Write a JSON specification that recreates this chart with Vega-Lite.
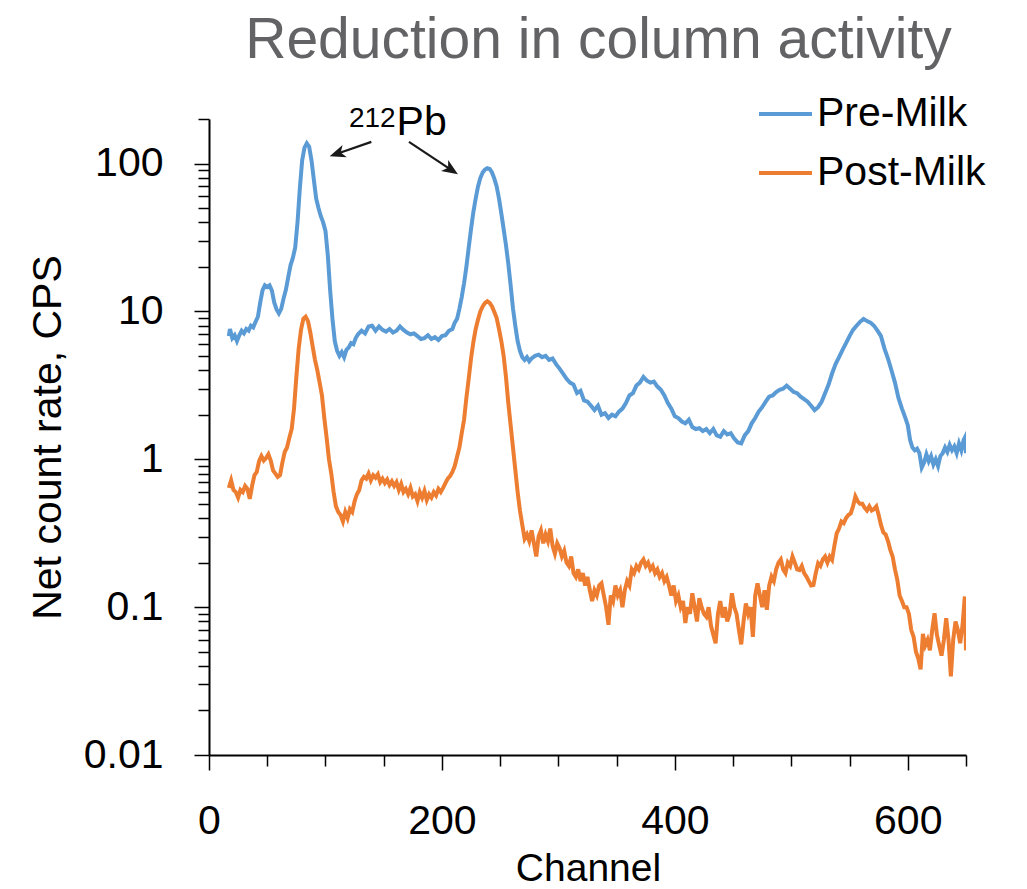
{
  "$schema": "https://vega.github.io/schema/vega-lite/v6.json",
  "autosize": {"type": "none"},
  "width": 757,
  "height": 636,
  "padding": {"left": 209, "top": 119, "right": 61, "bottom": 134},
  "background": "white",
  "config": {"view": {"stroke": null}, "font": "Liberation Sans"},
  "title": {"text": "Reduction in column activity", "font": "Liberation Sans", "fontSize": 57, "fontWeight": "normal", "color": "#636366", "anchor": "middle", "dx": 11, "offset": -29, "baseline": "alphabetic"},
  "datasets": {
    "spectra": [
      {"series":"Pre-Milk","channel":17,"cps":6.8},{"series":"Pre-Milk","channel":18,"cps":7.6},{"series":"Pre-Milk","channel":20,"cps":6.6},{"series":"Pre-Milk","channel":22,"cps":6.9},{"series":"Pre-Milk","channel":24,"cps":6.3},{"series":"Pre-Milk","channel":26,"cps":6.9},{"series":"Pre-Milk","channel":28,"cps":7.4},{"series":"Pre-Milk","channel":30,"cps":7.1},{"series":"Pre-Milk","channel":32,"cps":7.6},{"series":"Pre-Milk","channel":34,"cps":7.4},{"series":"Pre-Milk","channel":36,"cps":8.0},{"series":"Pre-Milk","channel":38,"cps":7.8},{"series":"Pre-Milk","channel":40,"cps":8.5},{"series":"Pre-Milk","channel":42,"cps":9.2},{"series":"Pre-Milk","channel":44,"cps":11.5},{"series":"Pre-Milk","channel":46,"cps":13.9},{"series":"Pre-Milk","channel":48,"cps":15.0},{"series":"Pre-Milk","channel":50,"cps":14.6},{"series":"Pre-Milk","channel":52,"cps":15.0},{"series":"Pre-Milk","channel":54,"cps":13.8},{"series":"Pre-Milk","channel":56,"cps":11.5},{"series":"Pre-Milk","channel":58,"cps":10.3},{"series":"Pre-Milk","channel":60,"cps":9.7},{"series":"Pre-Milk","channel":62,"cps":10.4},{"series":"Pre-Milk","channel":64,"cps":12.2},{"series":"Pre-Milk","channel":66,"cps":14.0},{"series":"Pre-Milk","channel":68,"cps":17.0},{"series":"Pre-Milk","channel":70,"cps":20.5},{"series":"Pre-Milk","channel":72,"cps":23},{"series":"Pre-Milk","channel":74,"cps":27},{"series":"Pre-Milk","channel":76,"cps":40},{"series":"Pre-Milk","channel":78,"cps":68},{"series":"Pre-Milk","channel":80,"cps":105},{"series":"Pre-Milk","channel":82,"cps":128},{"series":"Pre-Milk","channel":84,"cps":137},{"series":"Pre-Milk","channel":86,"cps":130},{"series":"Pre-Milk","channel":88,"cps":105},{"series":"Pre-Milk","channel":90,"cps":78},{"series":"Pre-Milk","channel":92,"cps":58},{"series":"Pre-Milk","channel":94,"cps":50},{"series":"Pre-Milk","channel":96,"cps":44},{"series":"Pre-Milk","channel":98,"cps":40},{"series":"Pre-Milk","channel":100,"cps":35},{"series":"Pre-Milk","channel":102,"cps":24},{"series":"Pre-Milk","channel":104,"cps":14},{"series":"Pre-Milk","channel":106,"cps":8.9},{"series":"Pre-Milk","channel":108,"cps":6.3},{"series":"Pre-Milk","channel":110,"cps":5.4},{"series":"Pre-Milk","channel":112,"cps":5.0},{"series":"Pre-Milk","channel":114,"cps":5.3},{"series":"Pre-Milk","channel":116,"cps":4.9},{"series":"Pre-Milk","channel":118,"cps":5.5},{"series":"Pre-Milk","channel":120,"cps":5.7},{"series":"Pre-Milk","channel":122,"cps":6.1},{"series":"Pre-Milk","channel":124,"cps":6.0},{"series":"Pre-Milk","channel":126,"cps":6.6},{"series":"Pre-Milk","channel":128,"cps":7.0},{"series":"Pre-Milk","channel":131,"cps":7.4},{"series":"Pre-Milk","channel":134,"cps":7.1},{"series":"Pre-Milk","channel":137,"cps":7.9},{"series":"Pre-Milk","channel":140,"cps":8.0},{"series":"Pre-Milk","channel":143,"cps":7.4},{"series":"Pre-Milk","channel":146,"cps":7.9},{"series":"Pre-Milk","channel":149,"cps":7.5},{"series":"Pre-Milk","channel":152,"cps":7.3},{"series":"Pre-Milk","channel":155,"cps":7.6},{"series":"Pre-Milk","channel":158,"cps":7.2},{"series":"Pre-Milk","channel":161,"cps":7.4},{"series":"Pre-Milk","channel":164,"cps":7.9},{"series":"Pre-Milk","channel":167,"cps":7.5},{"series":"Pre-Milk","channel":170,"cps":7.2},{"series":"Pre-Milk","channel":173,"cps":7.0},{"series":"Pre-Milk","channel":176,"cps":7.1},{"series":"Pre-Milk","channel":179,"cps":6.8},{"series":"Pre-Milk","channel":182,"cps":6.5},{"series":"Pre-Milk","channel":185,"cps":6.6},{"series":"Pre-Milk","channel":188,"cps":6.9},{"series":"Pre-Milk","channel":191,"cps":6.5},{"series":"Pre-Milk","channel":194,"cps":6.7},{"series":"Pre-Milk","channel":197,"cps":6.4},{"series":"Pre-Milk","channel":200,"cps":6.8},{"series":"Pre-Milk","channel":203,"cps":6.9},{"series":"Pre-Milk","channel":206,"cps":7.4},{"series":"Pre-Milk","channel":209,"cps":7.6},{"series":"Pre-Milk","channel":211,"cps":8.4},{"series":"Pre-Milk","channel":213,"cps":8.9},{"series":"Pre-Milk","channel":215,"cps":10.4},{"series":"Pre-Milk","channel":217,"cps":12.5},{"series":"Pre-Milk","channel":219,"cps":15.5},{"series":"Pre-Milk","channel":221,"cps":20},{"series":"Pre-Milk","channel":223,"cps":27},{"series":"Pre-Milk","channel":225,"cps":36},{"series":"Pre-Milk","channel":227,"cps":47},{"series":"Pre-Milk","channel":229,"cps":58},{"series":"Pre-Milk","channel":231,"cps":70},{"series":"Pre-Milk","channel":233,"cps":80},{"series":"Pre-Milk","channel":235,"cps":87},{"series":"Pre-Milk","channel":237,"cps":91},{"series":"Pre-Milk","channel":239,"cps":93},{"series":"Pre-Milk","channel":241,"cps":92},{"series":"Pre-Milk","channel":243,"cps":87},{"series":"Pre-Milk","channel":245,"cps":79},{"series":"Pre-Milk","channel":247,"cps":70},{"series":"Pre-Milk","channel":249,"cps":58},{"series":"Pre-Milk","channel":251,"cps":46},{"series":"Pre-Milk","channel":253,"cps":36},{"series":"Pre-Milk","channel":255,"cps":28},{"series":"Pre-Milk","channel":257,"cps":21},{"series":"Pre-Milk","channel":259,"cps":15},{"series":"Pre-Milk","channel":261,"cps":10.5},{"series":"Pre-Milk","channel":263,"cps":8},{"series":"Pre-Milk","channel":265,"cps":6.3},{"series":"Pre-Milk","channel":267,"cps":5.4},{"series":"Pre-Milk","channel":269,"cps":4.9},{"series":"Pre-Milk","channel":271,"cps":4.7},{"series":"Pre-Milk","channel":273,"cps":4.9},{"series":"Pre-Milk","channel":275,"cps":4.6},{"series":"Pre-Milk","channel":277,"cps":4.8},{"series":"Pre-Milk","channel":280,"cps":5.0},{"series":"Pre-Milk","channel":283,"cps":5.1},{"series":"Pre-Milk","channel":286,"cps":4.9},{"series":"Pre-Milk","channel":289,"cps":5.0},{"series":"Pre-Milk","channel":292,"cps":4.7},{"series":"Pre-Milk","channel":295,"cps":4.8},{"series":"Pre-Milk","channel":298,"cps":4.4},{"series":"Pre-Milk","channel":301,"cps":4.1},{"series":"Pre-Milk","channel":304,"cps":3.8},{"series":"Pre-Milk","channel":307,"cps":3.5},{"series":"Pre-Milk","channel":310,"cps":3.3},{"series":"Pre-Milk","channel":313,"cps":3.2},{"series":"Pre-Milk","channel":316,"cps":2.8},{"series":"Pre-Milk","channel":319,"cps":2.9},{"series":"Pre-Milk","channel":322,"cps":2.5},{"series":"Pre-Milk","channel":325,"cps":2.45},{"series":"Pre-Milk","channel":328,"cps":2.3},{"series":"Pre-Milk","channel":331,"cps":2.15},{"series":"Pre-Milk","channel":334,"cps":2.3},{"series":"Pre-Milk","channel":337,"cps":2.0},{"series":"Pre-Milk","channel":340,"cps":2.05},{"series":"Pre-Milk","channel":343,"cps":1.9},{"series":"Pre-Milk","channel":346,"cps":2.0},{"series":"Pre-Milk","channel":349,"cps":1.95},{"series":"Pre-Milk","channel":352,"cps":2.1},{"series":"Pre-Milk","channel":355,"cps":2.2},{"series":"Pre-Milk","channel":358,"cps":2.4},{"series":"Pre-Milk","channel":361,"cps":2.7},{"series":"Pre-Milk","channel":364,"cps":2.8},{"series":"Pre-Milk","channel":367,"cps":3.15},{"series":"Pre-Milk","channel":370,"cps":3.3},{"series":"Pre-Milk","channel":373,"cps":3.6},{"series":"Pre-Milk","channel":376,"cps":3.4},{"series":"Pre-Milk","channel":379,"cps":3.3},{"series":"Pre-Milk","channel":382,"cps":3.35},{"series":"Pre-Milk","channel":385,"cps":3.1},{"series":"Pre-Milk","channel":388,"cps":2.95},{"series":"Pre-Milk","channel":391,"cps":2.7},{"series":"Pre-Milk","channel":394,"cps":2.4},{"series":"Pre-Milk","channel":397,"cps":2.2},{"series":"Pre-Milk","channel":400,"cps":1.95},{"series":"Pre-Milk","channel":403,"cps":1.9},{"series":"Pre-Milk","channel":406,"cps":1.8},{"series":"Pre-Milk","channel":409,"cps":1.75},{"series":"Pre-Milk","channel":412,"cps":1.85},{"series":"Pre-Milk","channel":415,"cps":1.65},{"series":"Pre-Milk","channel":418,"cps":1.6},{"series":"Pre-Milk","channel":421,"cps":1.62},{"series":"Pre-Milk","channel":424,"cps":1.55},{"series":"Pre-Milk","channel":427,"cps":1.6},{"series":"Pre-Milk","channel":430,"cps":1.5},{"series":"Pre-Milk","channel":433,"cps":1.6},{"series":"Pre-Milk","channel":436,"cps":1.45},{"series":"Pre-Milk","channel":439,"cps":1.42},{"series":"Pre-Milk","channel":442,"cps":1.55},{"series":"Pre-Milk","channel":445,"cps":1.47},{"series":"Pre-Milk","channel":448,"cps":1.5},{"series":"Pre-Milk","channel":451,"cps":1.38},{"series":"Pre-Milk","channel":454,"cps":1.3},{"series":"Pre-Milk","channel":457,"cps":1.28},{"series":"Pre-Milk","channel":460,"cps":1.45},{"series":"Pre-Milk","channel":463,"cps":1.55},{"series":"Pre-Milk","channel":466,"cps":1.75},{"series":"Pre-Milk","channel":469,"cps":1.9},{"series":"Pre-Milk","channel":472,"cps":2.1},{"series":"Pre-Milk","channel":475,"cps":2.25},{"series":"Pre-Milk","channel":478,"cps":2.45},{"series":"Pre-Milk","channel":481,"cps":2.65},{"series":"Pre-Milk","channel":484,"cps":2.7},{"series":"Pre-Milk","channel":487,"cps":2.85},{"series":"Pre-Milk","channel":490,"cps":2.95},{"series":"Pre-Milk","channel":493,"cps":3.0},{"series":"Pre-Milk","channel":496,"cps":3.15},{"series":"Pre-Milk","channel":499,"cps":3.0},{"series":"Pre-Milk","channel":502,"cps":2.85},{"series":"Pre-Milk","channel":505,"cps":2.8},{"series":"Pre-Milk","channel":508,"cps":2.65},{"series":"Pre-Milk","channel":511,"cps":2.55},{"series":"Pre-Milk","channel":514,"cps":2.45},{"series":"Pre-Milk","channel":517,"cps":2.3},{"series":"Pre-Milk","channel":520,"cps":2.15},{"series":"Pre-Milk","channel":523,"cps":2.25},{"series":"Pre-Milk","channel":526,"cps":2.45},{"series":"Pre-Milk","channel":529,"cps":2.8},{"series":"Pre-Milk","channel":532,"cps":3.2},{"series":"Pre-Milk","channel":535,"cps":3.8},{"series":"Pre-Milk","channel":538,"cps":4.4},{"series":"Pre-Milk","channel":541,"cps":4.9},{"series":"Pre-Milk","channel":544,"cps":5.5},{"series":"Pre-Milk","channel":547,"cps":6.1},{"series":"Pre-Milk","channel":550,"cps":6.8},{"series":"Pre-Milk","channel":553,"cps":7.5},{"series":"Pre-Milk","channel":556,"cps":8.0},{"series":"Pre-Milk","channel":559,"cps":8.5},{"series":"Pre-Milk","channel":562,"cps":8.9},{"series":"Pre-Milk","channel":565,"cps":8.6},{"series":"Pre-Milk","channel":568,"cps":8.4},{"series":"Pre-Milk","channel":571,"cps":8.0},{"series":"Pre-Milk","channel":574,"cps":7.4},{"series":"Pre-Milk","channel":577,"cps":6.8},{"series":"Pre-Milk","channel":580,"cps":5.6},{"series":"Pre-Milk","channel":583,"cps":4.8},{"series":"Pre-Milk","channel":586,"cps":4.0},{"series":"Pre-Milk","channel":589,"cps":3.3},{"series":"Pre-Milk","channel":592,"cps":2.6},{"series":"Pre-Milk","channel":595,"cps":2.2},{"series":"Pre-Milk","channel":598,"cps":1.9},{"series":"Pre-Milk","channel":600,"cps":1.7},{"series":"Pre-Milk","channel":602,"cps":1.35},{"series":"Pre-Milk","channel":604,"cps":1.2},{"series":"Pre-Milk","channel":606,"cps":1.15},{"series":"Pre-Milk","channel":608,"cps":1.18},{"series":"Pre-Milk","channel":610,"cps":1.1},{"series":"Pre-Milk","channel":612,"cps":0.88},{"series":"Pre-Milk","channel":614,"cps":0.95},{"series":"Pre-Milk","channel":616,"cps":1.08},{"series":"Pre-Milk","channel":618,"cps":0.97},{"series":"Pre-Milk","channel":620,"cps":1.05},{"series":"Pre-Milk","channel":622,"cps":0.92},{"series":"Pre-Milk","channel":624,"cps":1.0},{"series":"Pre-Milk","channel":626,"cps":0.9},{"series":"Pre-Milk","channel":628,"cps":1.05},{"series":"Pre-Milk","channel":630,"cps":1.1},{"series":"Pre-Milk","channel":632,"cps":1.2},{"series":"Pre-Milk","channel":634,"cps":1.12},{"series":"Pre-Milk","channel":636,"cps":1.25},{"series":"Pre-Milk","channel":638,"cps":1.15},{"series":"Pre-Milk","channel":640,"cps":1.22},{"series":"Pre-Milk","channel":642,"cps":1.1},{"series":"Pre-Milk","channel":644,"cps":1.28},{"series":"Pre-Milk","channel":646,"cps":1.15},{"series":"Pre-Milk","channel":648,"cps":1.35},{"series":"Pre-Milk","channel":649,"cps":1.4},{"series":"Pre-Milk","channel":650,"cps":1.1},
      {"series":"Post-Milk","channel":17,"cps":0.64},{"series":"Post-Milk","channel":19,"cps":0.72},{"series":"Post-Milk","channel":21,"cps":0.62},{"series":"Post-Milk","channel":23,"cps":0.6},{"series":"Post-Milk","channel":25,"cps":0.55},{"series":"Post-Milk","channel":27,"cps":0.62},{"series":"Post-Milk","channel":29,"cps":0.6},{"series":"Post-Milk","channel":31,"cps":0.66},{"series":"Post-Milk","channel":33,"cps":0.63},{"series":"Post-Milk","channel":35,"cps":0.54},{"series":"Post-Milk","channel":37,"cps":0.66},{"series":"Post-Milk","channel":39,"cps":0.78},{"series":"Post-Milk","channel":41,"cps":0.82},{"series":"Post-Milk","channel":43,"cps":0.97},{"series":"Post-Milk","channel":45,"cps":1.05},{"series":"Post-Milk","channel":47,"cps":0.98},{"series":"Post-Milk","channel":49,"cps":1.02},{"series":"Post-Milk","channel":51,"cps":1.08},{"series":"Post-Milk","channel":53,"cps":0.98},{"series":"Post-Milk","channel":55,"cps":0.84},{"series":"Post-Milk","channel":57,"cps":0.8},{"series":"Post-Milk","channel":59,"cps":0.76},{"series":"Post-Milk","channel":61,"cps":0.78},{"series":"Post-Milk","channel":63,"cps":0.95},{"series":"Post-Milk","channel":65,"cps":1.12},{"series":"Post-Milk","channel":67,"cps":1.2},{"series":"Post-Milk","channel":69,"cps":1.4},{"series":"Post-Milk","channel":71,"cps":1.6},{"series":"Post-Milk","channel":73,"cps":2.2},{"series":"Post-Milk","channel":75,"cps":3.6},{"series":"Post-Milk","channel":77,"cps":5.6},{"series":"Post-Milk","channel":79,"cps":7.5},{"series":"Post-Milk","channel":81,"cps":8.9},{"series":"Post-Milk","channel":83,"cps":9.2},{"series":"Post-Milk","channel":85,"cps":8.6},{"series":"Post-Milk","channel":87,"cps":7.2},{"series":"Post-Milk","channel":89,"cps":5.8},{"series":"Post-Milk","channel":91,"cps":4.7},{"series":"Post-Milk","channel":93,"cps":4.0},{"series":"Post-Milk","channel":95,"cps":3.3},{"series":"Post-Milk","channel":97,"cps":2.7},{"series":"Post-Milk","channel":99,"cps":1.9},{"series":"Post-Milk","channel":101,"cps":1.4},{"series":"Post-Milk","channel":103,"cps":1.0},{"series":"Post-Milk","channel":105,"cps":0.8},{"series":"Post-Milk","channel":107,"cps":0.6},{"series":"Post-Milk","channel":109,"cps":0.48},{"series":"Post-Milk","channel":111,"cps":0.44},{"series":"Post-Milk","channel":113,"cps":0.42},{"series":"Post-Milk","channel":115,"cps":0.38},{"series":"Post-Milk","channel":117,"cps":0.44},{"series":"Post-Milk","channel":119,"cps":0.4},{"series":"Post-Milk","channel":121,"cps":0.46},{"series":"Post-Milk","channel":123,"cps":0.44},{"series":"Post-Milk","channel":125,"cps":0.52},{"series":"Post-Milk","channel":127,"cps":0.58},{"series":"Post-Milk","channel":129,"cps":0.62},{"series":"Post-Milk","channel":131,"cps":0.72},{"series":"Post-Milk","channel":133,"cps":0.76},{"series":"Post-Milk","channel":135,"cps":0.74},{"series":"Post-Milk","channel":137,"cps":0.8},{"series":"Post-Milk","channel":139,"cps":0.72},{"series":"Post-Milk","channel":141,"cps":0.78},{"series":"Post-Milk","channel":143,"cps":0.75},{"series":"Post-Milk","channel":145,"cps":0.79},{"series":"Post-Milk","channel":147,"cps":0.7},{"series":"Post-Milk","channel":149,"cps":0.74},{"series":"Post-Milk","channel":151,"cps":0.69},{"series":"Post-Milk","channel":153,"cps":0.73},{"series":"Post-Milk","channel":155,"cps":0.67},{"series":"Post-Milk","channel":157,"cps":0.71},{"series":"Post-Milk","channel":159,"cps":0.66},{"series":"Post-Milk","channel":161,"cps":0.7},{"series":"Post-Milk","channel":163,"cps":0.62},{"series":"Post-Milk","channel":165,"cps":0.68},{"series":"Post-Milk","channel":167,"cps":0.6},{"series":"Post-Milk","channel":169,"cps":0.63},{"series":"Post-Milk","channel":171,"cps":0.58},{"series":"Post-Milk","channel":173,"cps":0.64},{"series":"Post-Milk","channel":175,"cps":0.56},{"series":"Post-Milk","channel":177,"cps":0.58},{"series":"Post-Milk","channel":179,"cps":0.52},{"series":"Post-Milk","channel":181,"cps":0.6},{"series":"Post-Milk","channel":183,"cps":0.55},{"series":"Post-Milk","channel":185,"cps":0.61},{"series":"Post-Milk","channel":187,"cps":0.53},{"series":"Post-Milk","channel":189,"cps":0.58},{"series":"Post-Milk","channel":191,"cps":0.55},{"series":"Post-Milk","channel":193,"cps":0.6},{"series":"Post-Milk","channel":195,"cps":0.57},{"series":"Post-Milk","channel":197,"cps":0.63},{"series":"Post-Milk","channel":199,"cps":0.6},{"series":"Post-Milk","channel":201,"cps":0.64},{"series":"Post-Milk","channel":203,"cps":0.69},{"series":"Post-Milk","channel":205,"cps":0.74},{"series":"Post-Milk","channel":207,"cps":0.77},{"series":"Post-Milk","channel":209,"cps":0.82},{"series":"Post-Milk","channel":211,"cps":0.9},{"series":"Post-Milk","channel":213,"cps":1.04},{"series":"Post-Milk","channel":215,"cps":1.2},{"series":"Post-Milk","channel":217,"cps":1.5},{"series":"Post-Milk","channel":219,"cps":1.85},{"series":"Post-Milk","channel":221,"cps":2.6},{"series":"Post-Milk","channel":223,"cps":3.5},{"series":"Post-Milk","channel":225,"cps":4.8},{"series":"Post-Milk","channel":227,"cps":6.2},{"series":"Post-Milk","channel":229,"cps":7.6},{"series":"Post-Milk","channel":231,"cps":8.8},{"series":"Post-Milk","channel":233,"cps":10.0},{"series":"Post-Milk","channel":235,"cps":10.8},{"series":"Post-Milk","channel":237,"cps":11.4},{"series":"Post-Milk","channel":239,"cps":11.7},{"series":"Post-Milk","channel":241,"cps":11.4},{"series":"Post-Milk","channel":243,"cps":10.8},{"series":"Post-Milk","channel":245,"cps":9.9},{"series":"Post-Milk","channel":247,"cps":9.0},{"series":"Post-Milk","channel":249,"cps":7.6},{"series":"Post-Milk","channel":251,"cps":6.3},{"series":"Post-Milk","channel":253,"cps":5.0},{"series":"Post-Milk","channel":255,"cps":3.6},{"series":"Post-Milk","channel":257,"cps":2.4},{"series":"Post-Milk","channel":259,"cps":1.7},{"series":"Post-Milk","channel":261,"cps":1.2},{"series":"Post-Milk","channel":263,"cps":0.85},{"series":"Post-Milk","channel":265,"cps":0.6},{"series":"Post-Milk","channel":267,"cps":0.45},{"series":"Post-Milk","channel":269,"cps":0.36},{"series":"Post-Milk","channel":271,"cps":0.29},{"series":"Post-Milk","channel":273,"cps":0.31},{"series":"Post-Milk","channel":275,"cps":0.28},{"series":"Post-Milk","channel":277,"cps":0.33},{"series":"Post-Milk","channel":279,"cps":0.27},{"series":"Post-Milk","channel":281,"cps":0.22},{"series":"Post-Milk","channel":283,"cps":0.3},{"series":"Post-Milk","channel":285,"cps":0.33},{"series":"Post-Milk","channel":287,"cps":0.27},{"series":"Post-Milk","channel":289,"cps":0.31},{"series":"Post-Milk","channel":291,"cps":0.28},{"series":"Post-Milk","channel":293,"cps":0.34},{"series":"Post-Milk","channel":295,"cps":0.26},{"series":"Post-Milk","channel":297,"cps":0.23},{"series":"Post-Milk","channel":299,"cps":0.27},{"series":"Post-Milk","channel":301,"cps":0.25},{"series":"Post-Milk","channel":303,"cps":0.22},{"series":"Post-Milk","channel":305,"cps":0.24},{"series":"Post-Milk","channel":307,"cps":0.2},{"series":"Post-Milk","channel":309,"cps":0.19},{"series":"Post-Milk","channel":311,"cps":0.22},{"series":"Post-Milk","channel":313,"cps":0.17},{"series":"Post-Milk","channel":315,"cps":0.16},{"series":"Post-Milk","channel":317,"cps":0.18},{"series":"Post-Milk","channel":319,"cps":0.15},{"series":"Post-Milk","channel":321,"cps":0.17},{"series":"Post-Milk","channel":323,"cps":0.14},{"series":"Post-Milk","channel":325,"cps":0.16},{"series":"Post-Milk","channel":327,"cps":0.13},{"series":"Post-Milk","channel":329,"cps":0.11},{"series":"Post-Milk","channel":331,"cps":0.13},{"series":"Post-Milk","channel":333,"cps":0.12},{"series":"Post-Milk","channel":335,"cps":0.14},{"series":"Post-Milk","channel":337,"cps":0.145},{"series":"Post-Milk","channel":339,"cps":0.12},{"series":"Post-Milk","channel":341,"cps":0.1},{"series":"Post-Milk","channel":343,"cps":0.076},{"series":"Post-Milk","channel":345,"cps":0.12},{"series":"Post-Milk","channel":347,"cps":0.11},{"series":"Post-Milk","channel":349,"cps":0.14},{"series":"Post-Milk","channel":351,"cps":0.12},{"series":"Post-Milk","channel":353,"cps":0.13},{"series":"Post-Milk","channel":355,"cps":0.1},{"series":"Post-Milk","channel":357,"cps":0.13},{"series":"Post-Milk","channel":359,"cps":0.15},{"series":"Post-Milk","channel":361,"cps":0.14},{"series":"Post-Milk","channel":363,"cps":0.18},{"series":"Post-Milk","channel":365,"cps":0.17},{"series":"Post-Milk","channel":367,"cps":0.19},{"series":"Post-Milk","channel":369,"cps":0.18},{"series":"Post-Milk","channel":371,"cps":0.2},{"series":"Post-Milk","channel":373,"cps":0.21},{"series":"Post-Milk","channel":375,"cps":0.19},{"series":"Post-Milk","channel":377,"cps":0.2},{"series":"Post-Milk","channel":379,"cps":0.18},{"series":"Post-Milk","channel":381,"cps":0.19},{"series":"Post-Milk","channel":383,"cps":0.17},{"series":"Post-Milk","channel":385,"cps":0.18},{"series":"Post-Milk","channel":387,"cps":0.16},{"series":"Post-Milk","channel":389,"cps":0.17},{"series":"Post-Milk","channel":391,"cps":0.15},{"series":"Post-Milk","channel":393,"cps":0.16},{"series":"Post-Milk","channel":395,"cps":0.14},{"series":"Post-Milk","channel":397,"cps":0.12},{"series":"Post-Milk","channel":399,"cps":0.14},{"series":"Post-Milk","channel":401,"cps":0.11},{"series":"Post-Milk","channel":403,"cps":0.12},{"series":"Post-Milk","channel":405,"cps":0.1},{"series":"Post-Milk","channel":407,"cps":0.11},{"series":"Post-Milk","channel":409,"cps":0.078},{"series":"Post-Milk","channel":411,"cps":0.1},{"series":"Post-Milk","channel":413,"cps":0.09},{"series":"Post-Milk","channel":415,"cps":0.124},{"series":"Post-Milk","channel":417,"cps":0.1},{"series":"Post-Milk","channel":419,"cps":0.08},{"series":"Post-Milk","channel":421,"cps":0.115},{"series":"Post-Milk","channel":423,"cps":0.1},{"series":"Post-Milk","channel":425,"cps":0.09},{"series":"Post-Milk","channel":427,"cps":0.086},{"series":"Post-Milk","channel":429,"cps":0.1},{"series":"Post-Milk","channel":431,"cps":0.075},{"series":"Post-Milk","channel":433,"cps":0.065},{"series":"Post-Milk","channel":435,"cps":0.057},{"series":"Post-Milk","channel":437,"cps":0.09},{"series":"Post-Milk","channel":439,"cps":0.11},{"series":"Post-Milk","channel":441,"cps":0.085},{"series":"Post-Milk","channel":443,"cps":0.1},{"series":"Post-Milk","channel":445,"cps":0.08},{"series":"Post-Milk","channel":447,"cps":0.09},{"series":"Post-Milk","channel":449,"cps":0.124},{"series":"Post-Milk","channel":451,"cps":0.1},{"series":"Post-Milk","channel":453,"cps":0.09},{"series":"Post-Milk","channel":455,"cps":0.07},{"series":"Post-Milk","channel":457,"cps":0.056},{"series":"Post-Milk","channel":459,"cps":0.08},{"series":"Post-Milk","channel":461,"cps":0.106},{"series":"Post-Milk","channel":463,"cps":0.09},{"series":"Post-Milk","channel":465,"cps":0.1},{"series":"Post-Milk","channel":467,"cps":0.063},{"series":"Post-Milk","channel":469,"cps":0.12},{"series":"Post-Milk","channel":471,"cps":0.145},{"series":"Post-Milk","channel":473,"cps":0.12},{"series":"Post-Milk","channel":475,"cps":0.1},{"series":"Post-Milk","channel":477,"cps":0.13},{"series":"Post-Milk","channel":479,"cps":0.096},{"series":"Post-Milk","channel":481,"cps":0.14},{"series":"Post-Milk","channel":483,"cps":0.161},{"series":"Post-Milk","channel":485,"cps":0.15},{"series":"Post-Milk","channel":487,"cps":0.18},{"series":"Post-Milk","channel":489,"cps":0.2},{"series":"Post-Milk","channel":491,"cps":0.21},{"series":"Post-Milk","channel":493,"cps":0.18},{"series":"Post-Milk","channel":495,"cps":0.17},{"series":"Post-Milk","channel":497,"cps":0.2},{"series":"Post-Milk","channel":499,"cps":0.19},{"series":"Post-Milk","channel":501,"cps":0.22},{"series":"Post-Milk","channel":503,"cps":0.2},{"series":"Post-Milk","channel":505,"cps":0.18},{"series":"Post-Milk","channel":507,"cps":0.178},{"series":"Post-Milk","channel":509,"cps":0.19},{"series":"Post-Milk","channel":511,"cps":0.17},{"series":"Post-Milk","channel":513,"cps":0.161},{"series":"Post-Milk","channel":515,"cps":0.15},{"series":"Post-Milk","channel":517,"cps":0.14},{"series":"Post-Milk","channel":519,"cps":0.141},{"series":"Post-Milk","channel":521,"cps":0.17},{"series":"Post-Milk","channel":523,"cps":0.198},{"series":"Post-Milk","channel":525,"cps":0.19},{"series":"Post-Milk","channel":527,"cps":0.21},{"series":"Post-Milk","channel":529,"cps":0.22},{"series":"Post-Milk","channel":531,"cps":0.2},{"series":"Post-Milk","channel":533,"cps":0.22},{"series":"Post-Milk","channel":535,"cps":0.209},{"series":"Post-Milk","channel":537,"cps":0.26},{"series":"Post-Milk","channel":539,"cps":0.316},{"series":"Post-Milk","channel":541,"cps":0.34},{"series":"Post-Milk","channel":543,"cps":0.38},{"series":"Post-Milk","channel":545,"cps":0.37},{"series":"Post-Milk","channel":547,"cps":0.4},{"series":"Post-Milk","channel":549,"cps":0.42},{"series":"Post-Milk","channel":551,"cps":0.43},{"series":"Post-Milk","channel":553,"cps":0.48},{"series":"Post-Milk","channel":555,"cps":0.56},{"series":"Post-Milk","channel":557,"cps":0.52},{"series":"Post-Milk","channel":559,"cps":0.5},{"series":"Post-Milk","channel":561,"cps":0.5},{"series":"Post-Milk","channel":563,"cps":0.47},{"series":"Post-Milk","channel":565,"cps":0.45},{"series":"Post-Milk","channel":567,"cps":0.48},{"series":"Post-Milk","channel":569,"cps":0.45},{"series":"Post-Milk","channel":571,"cps":0.46},{"series":"Post-Milk","channel":573,"cps":0.48},{"series":"Post-Milk","channel":575,"cps":0.42},{"series":"Post-Milk","channel":577,"cps":0.36},{"series":"Post-Milk","channel":579,"cps":0.32},{"series":"Post-Milk","channel":581,"cps":0.31},{"series":"Post-Milk","channel":583,"cps":0.28},{"series":"Post-Milk","channel":585,"cps":0.244},{"series":"Post-Milk","channel":587,"cps":0.22},{"series":"Post-Milk","channel":589,"cps":0.18},{"series":"Post-Milk","channel":591,"cps":0.153},{"series":"Post-Milk","channel":593,"cps":0.12},{"series":"Post-Milk","channel":595,"cps":0.11},{"series":"Post-Milk","channel":597,"cps":0.1},{"series":"Post-Milk","channel":599,"cps":0.1},{"series":"Post-Milk","channel":601,"cps":0.09},{"series":"Post-Milk","channel":603,"cps":0.07},{"series":"Post-Milk","channel":605,"cps":0.063},{"series":"Post-Milk","channel":607,"cps":0.05},{"series":"Post-Milk","channel":609,"cps":0.045},{"series":"Post-Milk","channel":611,"cps":0.038},{"series":"Post-Milk","channel":613,"cps":0.066},{"series":"Post-Milk","channel":615,"cps":0.055},{"series":"Post-Milk","channel":617,"cps":0.06},{"series":"Post-Milk","channel":619,"cps":0.051},{"series":"Post-Milk","channel":621,"cps":0.07},{"series":"Post-Milk","channel":623,"cps":0.091},{"series":"Post-Milk","channel":625,"cps":0.065},{"series":"Post-Milk","channel":627,"cps":0.055},{"series":"Post-Milk","channel":629,"cps":0.047},{"series":"Post-Milk","channel":631,"cps":0.06},{"series":"Post-Milk","channel":633,"cps":0.084},{"series":"Post-Milk","channel":635,"cps":0.06},{"series":"Post-Milk","channel":637,"cps":0.034},{"series":"Post-Milk","channel":639,"cps":0.06},{"series":"Post-Milk","channel":641,"cps":0.08},{"series":"Post-Milk","channel":643,"cps":0.07},{"series":"Post-Milk","channel":645,"cps":0.057},{"series":"Post-Milk","channel":647,"cps":0.075},{"series":"Post-Milk","channel":649,"cps":0.118},{"series":"Post-Milk","channel":650,"cps":0.051}
    ],
    "arrows": [
      {"arrow":"left","channel":139.4,"cps":140},{"arrow":"left","channel":111.2,"cps":117.4},
      {"arrow":"right","channel":171.7,"cps":140},{"arrow":"right","channel":207.0,"cps":91.7}
    ],
    "heads": [
      {"arrow":"left","channel":111.2,"cps":117.4},
      {"arrow":"right","channel":207.0,"cps":91.7}
    ],
    "labels": [
      {"part":"mass","text":"212","channel":160.3,"cps":175.9},
      {"part":"element","text":"Pb","channel":161.1,"cps":155.4}
    ]
  },
  "encoding": {
    "x": {
      "field": "channel", "type": "quantitative",
      "scale": {"domain": [0, 650], "nice": false, "zero": false},
      "axis": {
        "title": "Channel", "titleFont": "Liberation Sans", "titleFontSize": 39, "titleFontWeight": "normal", "titleColor": "black",
        "titleX": 379, "titleY": 125, "titleAlign": "center", "titleBaseline": "alphabetic",
        "values": [0,50,100,150,200,250,300,350,400,450,500,550,600,650],
        "labelExpr": "datum.value % 200 == 0 ? datum.label : ''",
        "labelFont": "Liberation Sans", "labelFontSize": 41, "labelColor": "black",
        "labelBaseline": "alphabetic", "labelPadding": 63, "labelFlush": false, "labelOverlap": false,
        "tickSize": {"condition": {"test": "datum.value % 200 == 0", "value": 15}, "value": 11},
        "tickColor": "black", "tickWidth": 1.5, "domainColor": "black", "domainWidth": 2, "grid": false
      }
    },
    "y": {
      "field": "cps", "type": "quantitative",
      "scale": {"type": "log", "domain": [0.01, 200], "nice": false},
      "axis": {
        "title": "Net count rate, CPS", "titleFont": "Liberation Sans", "titleFontSize": 41, "titleFontWeight": "normal", "titleColor": "black",
        "titleAngle": -90, "titleX": -149, "titleY": 318, "titleAlign": "center", "titleBaseline": "alphabetic",
        "values": [0.01,0.02,0.03,0.04,0.05,0.06,0.07,0.08,0.09,0.1,0.2,0.3,0.4,0.5,0.6,0.7,0.8,0.9,1,2,3,4,5,6,7,8,9,10,20,30,40,50,60,70,80,90,100,200],
        "format": "~g",
        "labelExpr": "indexof([0.01,0.1,1,10,100], datum.value) >= 0 ? datum.label : ''",
        "labelFont": "Liberation Sans", "labelFontSize": 41, "labelColor": "black",
        "labelPadding": 31, "labelFlush": false, "labelOverlap": false,
        "tickSize": {"condition": {"test": "indexof([0.01,0.1,1,10,100], datum.value) >= 0", "value": 15}, "value": 11},
        "tickColor": "black", "tickWidth": 1.5, "domainColor": "black", "domainWidth": 2, "grid": false
      }
    }
  },
  "layer": [
    {
      "data": {"name": "spectra"},
      "mark": {"type": "line", "strokeWidth": 4, "clip": true},
      "encoding": {
        "color": {
          "field": "series", "type": "nominal",
          "scale": {"domain": ["Pre-Milk", "Post-Milk"], "range": ["#5B9BD5", "#ED7D31"]},
          "legend": {
            "title": null, "orient": "none", "legendX": 548, "legendY": -33.5,
            "symbolType": "stroke", "symbolSize": 2809, "symbolStrokeWidth": 4,
            "labelFont": "Liberation Sans", "labelFontSize": 41, "labelColor": "black", "labelLimit": 0,
            "labelOffset": 3, "rowPadding": 10, "padding": 0, "offset": 0
          }
        },
        "order": {"field": "channel", "type": "quantitative"}
      }
    },
    {
      "data": {"name": "arrows"},
      "mark": {"type": "line", "color": "#1a1a1a", "strokeWidth": 2.2},
      "encoding": {"detail": {"field": "arrow", "type": "nominal"}}
    },
    {
      "data": {"name": "heads"},
      "transform": [{"filter": "datum.arrow == 'left'"}],
      "mark": {"type": "point", "shape": "M0,-1L0.7,0.7L0,0.25L-0.7,0.7Z", "angle": 251, "filled": true, "size": 350, "color": "#1a1a1a", "opacity": 1}
    },
    {
      "data": {"name": "heads"},
      "transform": [{"filter": "datum.arrow == 'right'"}],
      "mark": {"type": "point", "shape": "M0,-1L0.7,0.7L0,0.25L-0.7,0.7Z", "angle": 123, "filled": true, "size": 350, "color": "#1a1a1a", "opacity": 1}
    },
    {
      "data": {"name": "labels"},
      "transform": [{"filter": "datum.part == 'mass'"}],
      "mark": {"type": "text", "align": "right", "baseline": "alphabetic", "fontSize": 28, "font": "Liberation Sans", "color": "black"},
      "encoding": {"text": {"field": "text"}}
    },
    {
      "data": {"name": "labels"},
      "transform": [{"filter": "datum.part == 'element'"}],
      "mark": {"type": "text", "align": "left", "baseline": "alphabetic", "fontSize": 41, "font": "Liberation Sans", "color": "black"},
      "encoding": {"text": {"field": "text"}}
    }
  ]
}
